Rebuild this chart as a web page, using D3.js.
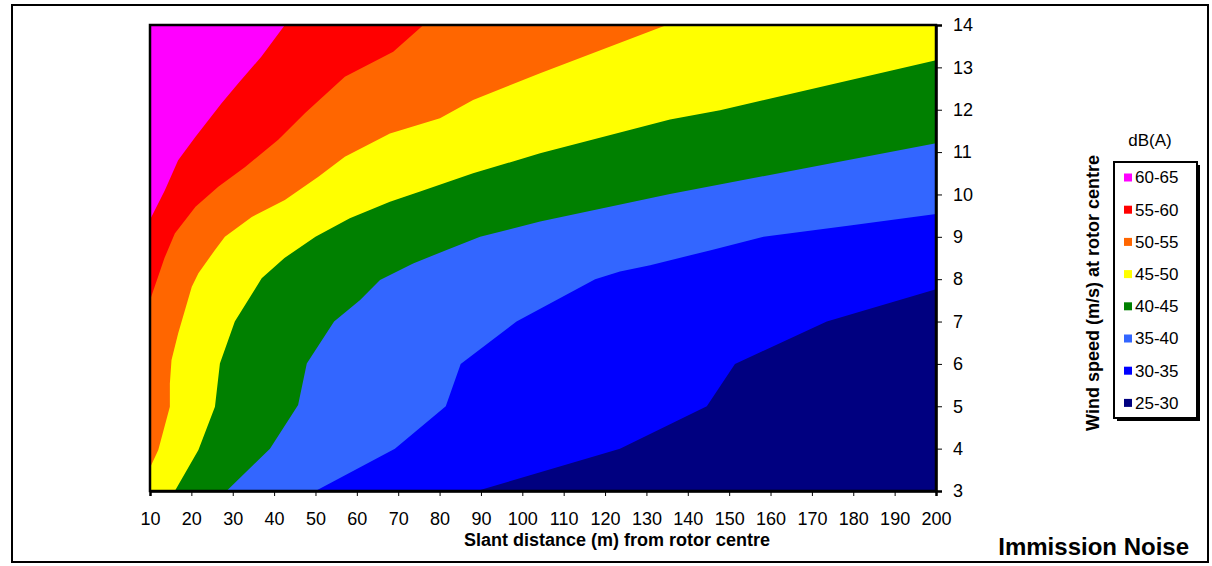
<!DOCTYPE html>
<html>
<head>
<meta charset="utf-8">
<script src="https://cdn.jsdelivr.net/npm/d3@7"></script>
<style>
  body { margin: 0; background: #fff; }
  text { font-family: "Liberation Sans", Arial, sans-serif; fill: #000; }
</style>
</head>
<body>
<svg id="chart"></svg>
<script>
// tick labels
const distanceTicks = [10, 20, 30, 40, 50, 60, 70, 80, 90, 100, 110, 120, 130, 140, 150, 160, 170, 180, 190, 200];
const windTicks = [3, 4, 5, 6, 7, 8, 9, 10, 11, 12, 13, 14];

// legend bands, top to bottom
const bandLabels = ["60-65", "55-60", "50-55", "45-50", "40-45", "35-40", "30-35", "25-30"];
const bandColors = ["#ff00ff", "#ff0000", "#ff6600", "#ffff00", "#008000", "#3366ff", "#0000ff", "#000080"];

// contour lines: [slant distance (m), wind speed (m/s)]
const contour30 = [[89, 3], [123.6, 4], [144.6, 5], [151.4, 6], [173.6, 7], [200, 7.76]];
const contour35 = [[50, 3], [69.2, 4], [81.5, 5], [85.1, 6], [98.6, 7], [117.6, 8], [123.6, 8.18],
  [130.9, 8.33], [145.8, 8.69], [158.3, 9], [179.2, 9.27], [200, 9.54]];
const contour40 = [[28.5, 3], [39, 4], [45.8, 5.03], [47.9, 6.01], [54.5, 7], [60.8, 7.51], [65.6, 7.98],
  [73.6, 8.37], [81.7, 8.69], [89.8, 9], [104.3, 9.36], [135.7, 10.01], [200, 11.21]];
const contour45 = [[16, 3], [21.7, 3.97], [25.7, 4.99], [26.9, 6.01], [30.5, 7], [37, 8.02], [42.5, 8.5],
  [50, 9], [58.3, 9.44], [68, 9.83], [75.3, 10.07], [88.1, 10.5], [104.3, 10.97], [135.7, 11.77],
  [147.8, 11.99], [200, 13.17]];
const contour50 = [[10, 3.55], [12, 3.97], [14.8, 4.99], [14.8, 5.54], [15.2, 6.09], [16.8, 6.72],
  [20.1, 7.82], [21.7, 8.14], [25.7, 8.69], [28.1, 9], [34.6, 9.47], [42.6, 9.87], [50.7, 10.42],
  [57.1, 10.89], [68, 11.44], [80.1, 11.8], [88.1, 12.23], [104.3, 12.86], [134.9, 14]];
const contour55 = [[10, 7.5], [13.5, 8.5], [16, 9.08], [21, 9.71], [26.5, 10.18], [33, 10.65], [41, 11.29],
  [47.5, 11.92], [57.1, 12.78], [68.8, 13.37], [76.1, 14]];
const contour60 = [[10, 9.4], [13.6, 10.1], [16.8, 10.81], [21, 11.36], [27.3, 12.15], [31.3, 12.62],
  [36.9, 13.25], [42.6, 14]];

// each contour bounds the region louder than it (upper left)
const contours = [contour30, contour35, contour40, contour45, contour50, contour55, contour60];
const contourFills = ["#0000ff", "#3366ff", "#008000", "#ffff00", "#ff6600", "#ff0000", "#ff00ff"];

const width = 1212;
const height = 566;
const plot = { left: 150, right: 936, top: 25, bottom: 491 };

const svg = d3.select("#chart").attr("width", width).attr("height", height);

// outer frame
svg.append("rect")
  .attr("x", 12).attr("y", 5)
  .attr("width", 1196).attr("height", 557)
  .attr("fill", "none")
  .attr("stroke", "#000")
  .attr("stroke-width", 2);

const x = d3.scaleLinear().domain([10, 200]).range([plot.left, plot.right]);
const y = d3.scaleLinear().domain([3, 14]).range([plot.bottom, plot.top]);

svg.append("clipPath").attr("id", "plotClip")
  .append("rect")
  .attr("x", plot.left).attr("y", plot.top)
  .attr("width", plot.right - plot.left).attr("height", plot.bottom - plot.top);

const area = svg.append("g").attr("clip-path", "url(#plotClip)");

// quietest band fills the whole plot
area.append("rect")
  .attr("x", x(10)).attr("y", y(14))
  .attr("width", x(200) - x(10)).attr("height", y(3) - y(14))
  .attr("fill", bandColors[bandColors.length - 1]);

const line = d3.line().x((d) => x(d[0])).y((d) => y(d[1]));

area.selectAll("path.band")
  .data(contours)
  .enter()
  .append("path")
  .attr("class", "band")
  .attr("d", (d) => line(d.concat([[200, 14], [10, 14], [10, 3]])) + "Z")
  .attr("fill", (d, i) => contourFills[i]);

// plot border
svg.append("rect")
  .attr("x", plot.left).attr("y", plot.top)
  .attr("width", plot.right - plot.left).attr("height", plot.bottom - plot.top)
  .attr("fill", "none")
  .attr("stroke", "#000")
  .attr("stroke-width", 2.5);

const xAxis = d3.axisBottom(x).tickValues(distanceTicks).tickSize(5).tickPadding(16);
svg.append("g")
  .attr("class", "axis xAxis")
  .attr("transform", `translate(0, ${plot.bottom})`)
  .call(xAxis)
  .call((g) => g.select(".domain").attr("stroke-width", 2.5))
  .selectAll("text")
  .style("font-size", "18px");

const yAxis = d3.axisRight(y).tickValues(windTicks).tickSize(6).tickPadding(11);
svg.append("g")
  .attr("class", "axis yAxis")
  .attr("transform", `translate(${plot.right}, 0)`)
  .call(yAxis)
  .call((g) => g.select(".domain").attr("stroke-width", 2.5))
  .selectAll("text")
  .style("font-size", "18px");

svg.selectAll(".axis text").attr("font-family", null);

// axis titles
svg.append("text")
  .attr("x", 617).attr("y", 546)
  .attr("text-anchor", "middle")
  .style("font-size", "18px")
  .style("font-weight", "bold")
  .text("Slant distance (m) from rotor centre");

svg.append("text")
  .attr("transform", "translate(1099, 293) rotate(-90)")
  .attr("text-anchor", "middle")
  .style("font-size", "18px")
  .style("font-weight", "bold")
  .text("Wind speed (m/s) at rotor centre");

svg.append("text")
  .attr("x", 1189).attr("y", 555)
  .attr("text-anchor", "end")
  .style("font-size", "24px")
  .style("font-weight", "bold")
  .text("Immission Noise");

// legend
svg.append("text")
  .attr("x", 1150).attr("y", 146)
  .attr("text-anchor", "middle")
  .style("font-size", "17px")
  .text("dB(A)");

svg.append("rect")
  .attr("x", 1117).attr("y", 165)
  .attr("width", 83).attr("height", 256)
  .attr("fill", "#000");

svg.append("rect")
  .attr("x", 1114).attr("y", 162)
  .attr("width", 83).attr("height", 256)
  .attr("fill", "#fff")
  .attr("stroke", "#000")
  .attr("stroke-width", 2);

const legendItems = svg.selectAll("g.legendItem")
  .data(bandLabels)
  .enter()
  .append("g")
  .attr("class", "legendItem")
  .attr("transform", (d, i) => `translate(1124, ${177.5 + i * 32.2})`);

legendItems.append("rect")
  .attr("x", 0).attr("y", -4)
  .attr("width", 8).attr("height", 8)
  .attr("fill", (d, i) => bandColors[i]);

legendItems.append("text")
  .attr("x", 11).attr("y", 0)
  .attr("dy", "0.35em")
  .style("font-size", "17px")
  .text((d) => d);
</script>
</body>
</html>
